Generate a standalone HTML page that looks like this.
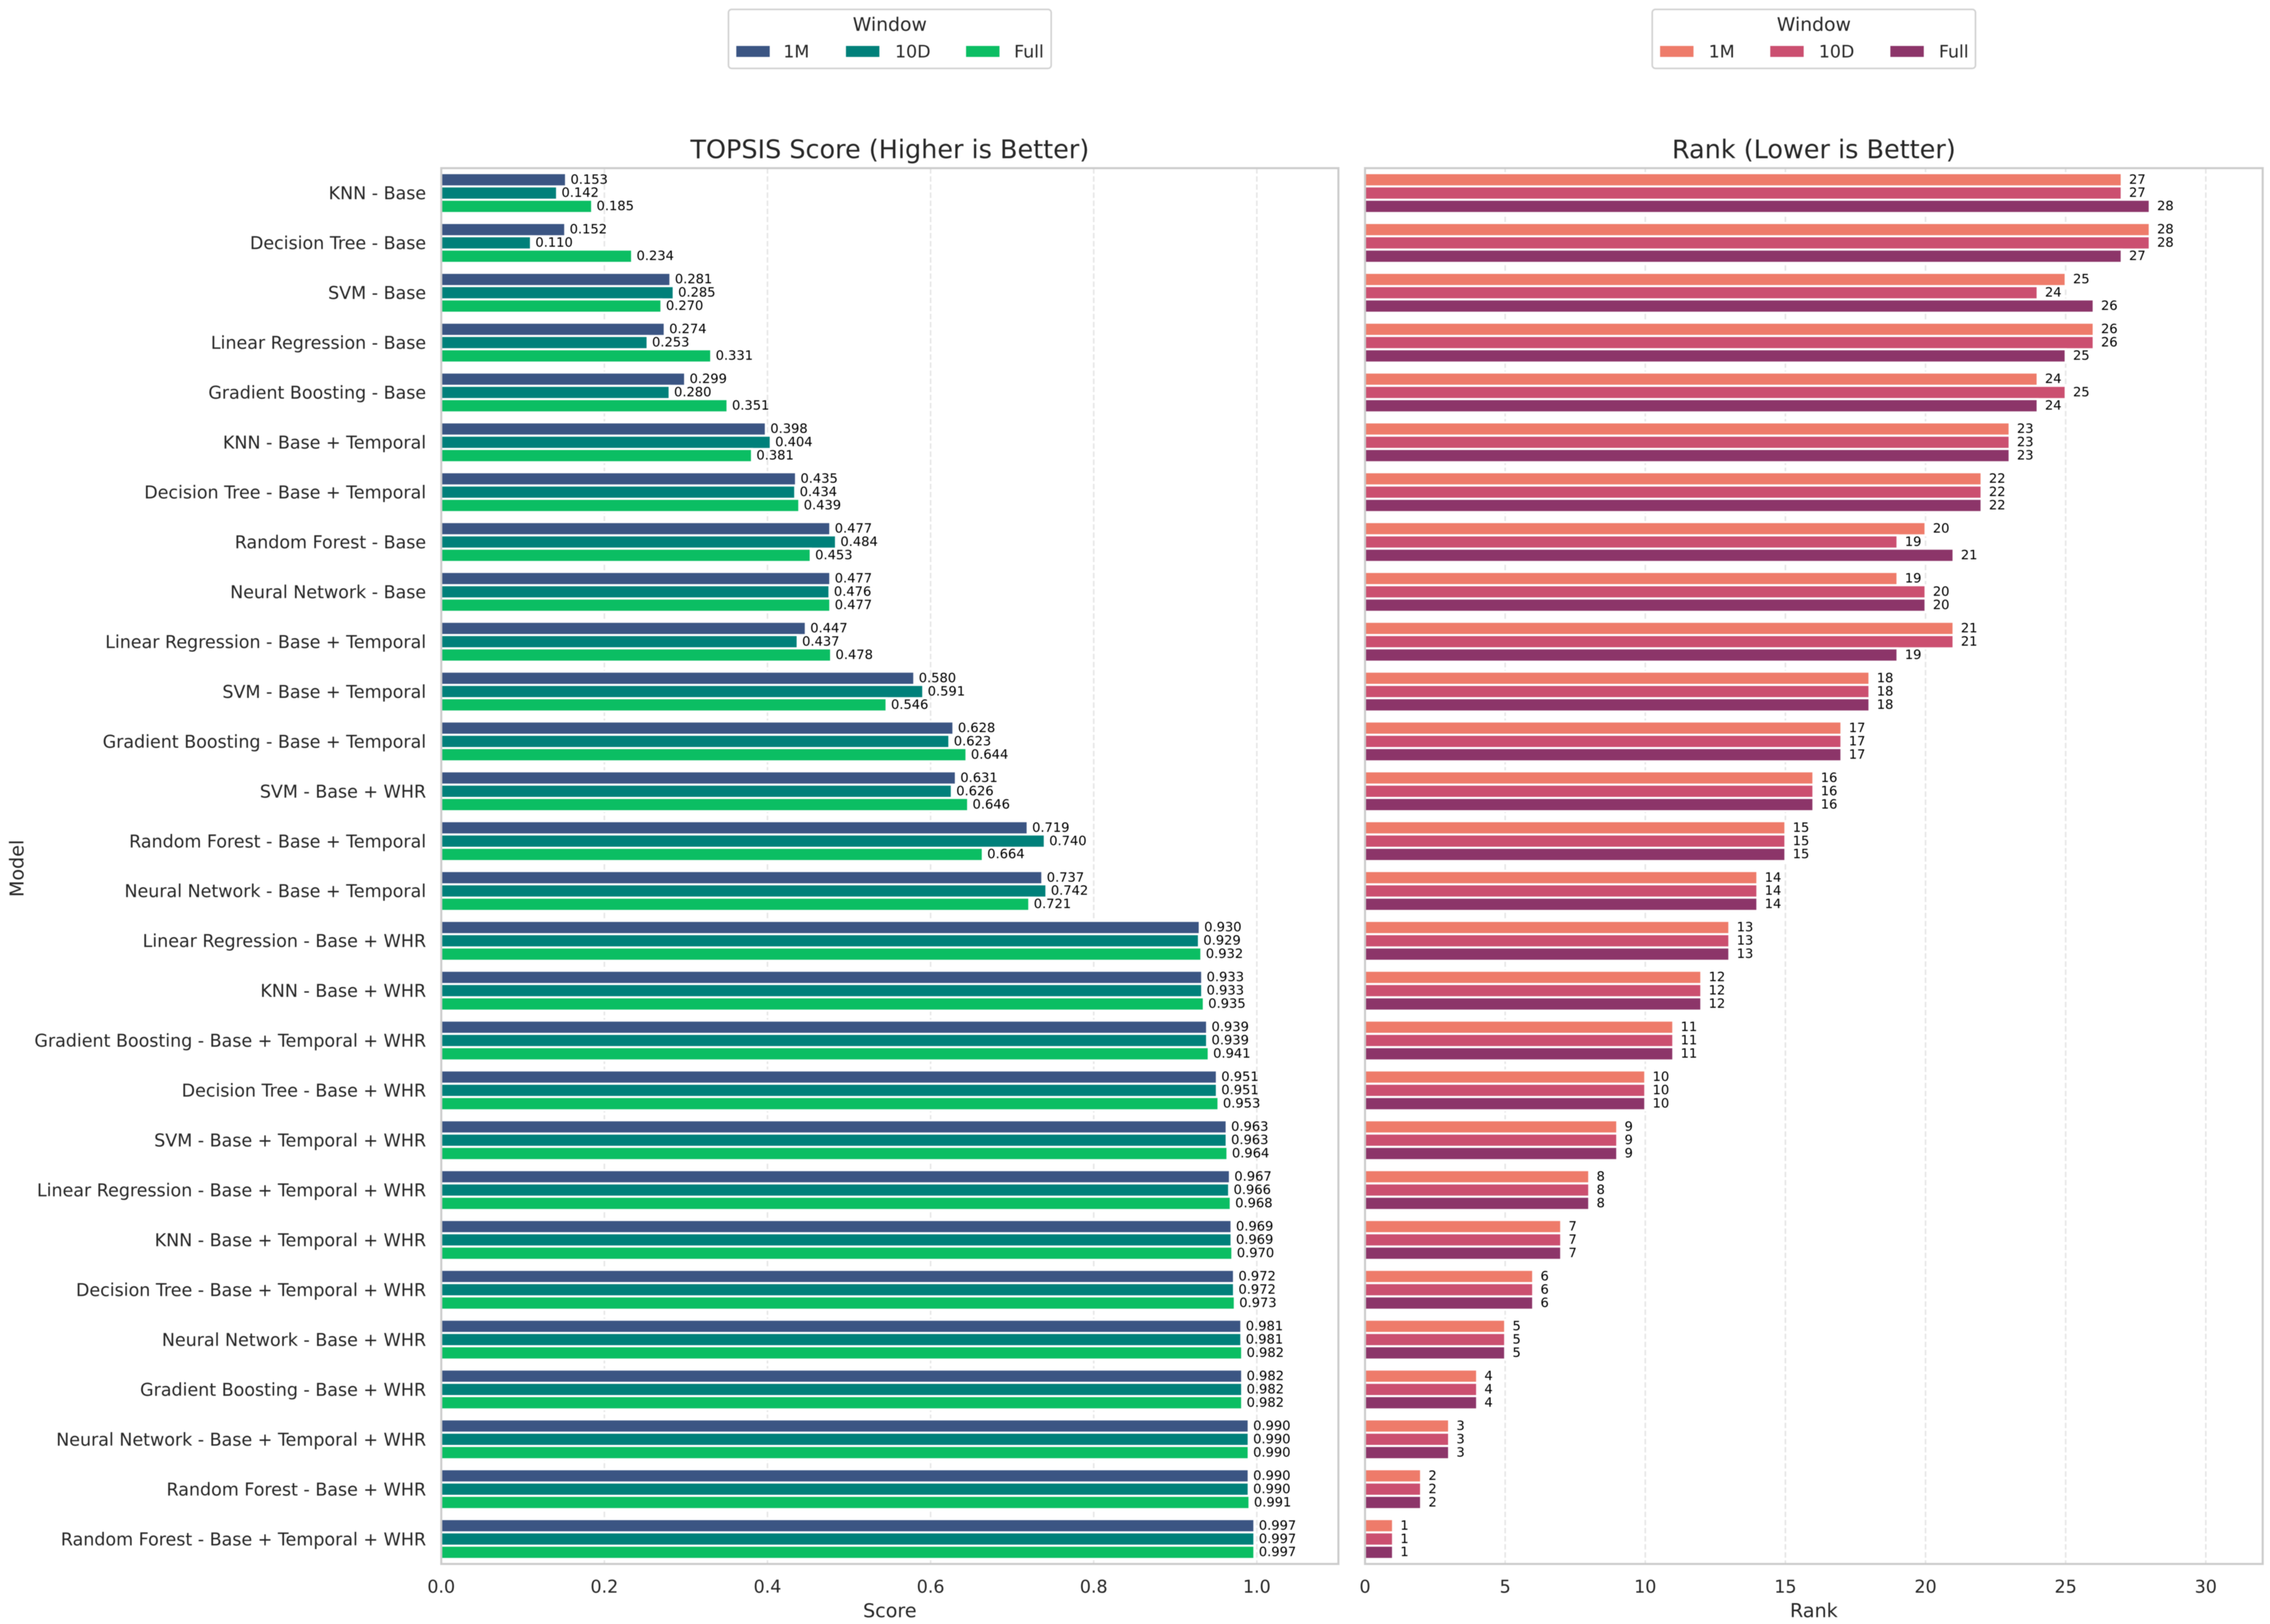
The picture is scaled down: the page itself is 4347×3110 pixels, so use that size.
<!DOCTYPE html>
<html lang="en">
<head>
<meta charset="utf-8">
<title>TOPSIS Score and Rank by Model and Window</title>
<style>
html,body{margin:0;padding:0;background:#fff;width:4347px;height:3110px;overflow:hidden}
svg{display:block;filter:blur(0.7px)}
text{font-family:"DejaVu Sans","Liberation Sans",sans-serif;fill:#262626}
.tick{font-size:33.45px}
.val{font-size:25px;fill:#000}
.ttl{font-size:48.8px;text-anchor:middle}
.axl{font-size:36.6px;text-anchor:middle}
.leg{font-size:33.3px}
.legttl{font-size:36px;text-anchor:middle}
.spine{fill:none;stroke:#cccccc;stroke-width:4}
.legbox{fill:#fff;stroke:#d2d2d2;stroke-width:3}
</style>
</head>
<body>
<svg id="chart" xmlns="http://www.w3.org/2000/svg" width="4347" height="3110" viewBox="0 0 4347 3110">
  <rect x="0" y="0" width="4347" height="3110" fill="#ffffff"/>

  <g>
    <rect class="legbox" x="1395" y="18" width="618" height="113" rx="6"/>
    <text class="legttl" x="1704" y="59">Window</text>
    <rect x="1410" y="88" width="64" height="21" fill="#3b5583"/>
    <text class="leg" x="1500" y="110">1M</text>
    <rect x="1620" y="88" width="64" height="21" fill="#00807a"/>
    <text class="leg" x="1714" y="110">10D</text>
    <rect x="1850" y="88" width="64" height="21" fill="#0bbe63"/>
    <text class="leg" x="1942" y="110">Full</text>
  </g>

  <g>
    <rect class="legbox" x="3164" y="18" width="619" height="113" rx="6"/>
    <text class="legttl" x="3473.5" y="59">Window</text>
    <rect x="3179" y="88" width="64" height="21" fill="#ee7b6a"/>
    <text class="leg" x="3272" y="110">1M</text>
    <rect x="3390" y="88" width="64" height="21" fill="#cb4f70"/>
    <text class="leg" x="3483" y="110">10D</text>
    <rect x="3620" y="88" width="64" height="21" fill="#8c3569"/>
    <text class="leg" x="3713" y="110">Full</text>
  </g>

  <text class="ttl" x="1704" y="303">TOPSIS Score (Higher is Better)</text>
  <text class="ttl" x="3473.5" y="303">Rank (Lower is Better)</text>
  <text class="axl" x="1704" y="3097">Score</text>
  <text class="axl" x="3473.5" y="3097">Rank</text>
  <text class="axl" transform="translate(45 1663) rotate(-90)">Model</text>

  <g id="plot"></g>
</svg>

<script>
const categories = [
  "KNN - Base","Decision Tree - Base","SVM - Base","Linear Regression - Base","Gradient Boosting - Base",
  "KNN - Base + Temporal","Decision Tree - Base + Temporal","Random Forest - Base","Neural Network - Base",
  "Linear Regression - Base + Temporal","SVM - Base + Temporal","Gradient Boosting - Base + Temporal",
  "SVM - Base + WHR","Random Forest - Base + Temporal","Neural Network - Base + Temporal",
  "Linear Regression - Base + WHR","KNN - Base + WHR","Gradient Boosting - Base + Temporal + WHR",
  "Decision Tree - Base + WHR","SVM - Base + Temporal + WHR","Linear Regression - Base + Temporal + WHR",
  "KNN - Base + Temporal + WHR","Decision Tree - Base + Temporal + WHR","Neural Network - Base + WHR",
  "Gradient Boosting - Base + WHR","Neural Network - Base + Temporal + WHR","Random Forest - Base + WHR",
  "Random Forest - Base + Temporal + WHR"
];
const score1M = [0.153,0.152,0.281,0.274,0.299,0.398,0.435,0.477,0.477,0.447,0.580,0.628,0.631,0.719,0.737,0.930,0.933,0.939,0.951,0.963,0.967,0.969,0.972,0.981,0.982,0.990,0.990,0.997];
const score10D = [0.142,0.110,0.285,0.253,0.280,0.404,0.434,0.484,0.476,0.437,0.591,0.623,0.626,0.740,0.742,0.929,0.933,0.939,0.951,0.963,0.966,0.969,0.972,0.981,0.982,0.990,0.990,0.997];
const scoreFull = [0.185,0.234,0.270,0.331,0.351,0.381,0.439,0.453,0.477,0.478,0.546,0.644,0.646,0.664,0.721,0.932,0.935,0.941,0.953,0.964,0.968,0.970,0.973,0.982,0.982,0.990,0.991,0.997];
const rank1M = [27,28,25,26,24,23,22,20,19,21,18,17,16,15,14,13,12,11,10,9,8,7,6,5,4,3,2,1];
const rank10D = [27,28,24,26,25,23,22,19,20,21,18,17,16,15,14,13,12,11,10,9,8,7,6,5,4,3,2,1];
const rankFull = [28,27,26,25,24,23,22,21,20,19,18,17,16,15,14,13,12,11,10,9,8,7,6,5,4,3,2,1];
const scoreTicks = [0.0,0.2,0.4,0.6,0.8,1.0];
const scoreTickLabels = ["0.0","0.2","0.4","0.6","0.8","1.0"];
const rankTicks = [0,5,10,15,20,25,30];
const rankTickLabels = ["0","5","10","15","20","25","30"];
const windows = ["1m","10d","full"];

const NS = "http://www.w3.org/2000/svg";
const plot = document.getElementById("plot");
const top_ = 322, bottom_ = 2995;
const scoreLeft = 845, scoreRight = 2563, scoreMax = 1.1;
const rankLeft = 2614, rankRight = 4333, rankMax = 32.03;
const band = (bottom_ - top_) / categories.length;
const pitch = band * 0.8 / 3;

function xScore(v) { return scoreLeft + v / scoreMax * (scoreRight - scoreLeft); }
function xRank(v) { return rankLeft + v / rankMax * (rankRight - rankLeft); }
function yBand(i) { return top_ + band * (i + 0.5); }
function yBar(i, s) { return yBand(i) + (s - 1) * pitch; }

function make(tag, attrs, parent) {
  const el = document.createElementNS(NS, tag);
  for (const k in attrs) el.setAttribute(k, attrs[k]);
  (parent || plot).appendChild(el);
  return el;
}

function drawPanel(cfg) {
  // gridlines
  cfg.ticks.forEach(function (t) {
    const line = make("line", { x1: cfg.x(t), x2: cfg.x(t), y1: top_, y2: bottom_, stroke: "#e6e6e6", "stroke-width": 3, "stroke-dasharray": "10.5 5" });
    
    
  });
  // bars
  cfg.series.forEach(function (vals, s) {
    vals.forEach(function (v, i) {
      const bar = make("rect", { x: cfg.left, y: yBar(i, s) - pitch / 2, width: cfg.x(v) - cfg.left, height: pitch, fill: cfg.colors[s], stroke: "#ffffff", "stroke-width": 4 });
      
      
    });
  });
  // spines
  const spine = make("rect", { class: "spine", x: cfg.left, y: top_, width: cfg.right - cfg.left, height: bottom_ - top_ });
  
  
  // value labels
  cfg.series.forEach(function (vals, s) {
    vals.forEach(function (v, i) {
      const label = make("text", { class: "val", x: cfg.x(v) + cfg.labelGap, y: yBar(i, s) + 7.5 });
      label.textContent = cfg.format(v);
      
      
    });
  });
  // x tick labels
  cfg.ticks.forEach(function (t, i) {
    const tick = make("text", { class: "tick", x: cfg.x(t), y: 3050, "text-anchor": "middle" });
    tick.textContent = cfg.tickLabels[i];
    
    
  });
}

drawPanel({
  id: "score", left: scoreLeft, right: scoreRight, x: xScore, ticks: scoreTicks, tickLabels: scoreTickLabels,
  series: [score1M, score10D, scoreFull], colors: ["#3b5583", "#00807a", "#0bbe63"],
  labelGap: 8.5, format: function (v) { return v.toFixed(3); }
});
drawPanel({
  id: "rank", left: rankLeft, right: rankRight, x: xRank, ticks: rankTicks, tickLabels: rankTickLabels,
  series: [rank1M, rank10D, rankFull], colors: ["#ee7b6a", "#cb4f70", "#8c3569"],
  labelGap: 14, format: function (v) { return String(v); }
});

categories.forEach(function (c, i) {
  const cat = make("text", { class: "tick", x: 816, y: yBand(i) + 12, "text-anchor": "end" });
  cat.textContent = c;
  
  
});
</script>
</body>
</html>
